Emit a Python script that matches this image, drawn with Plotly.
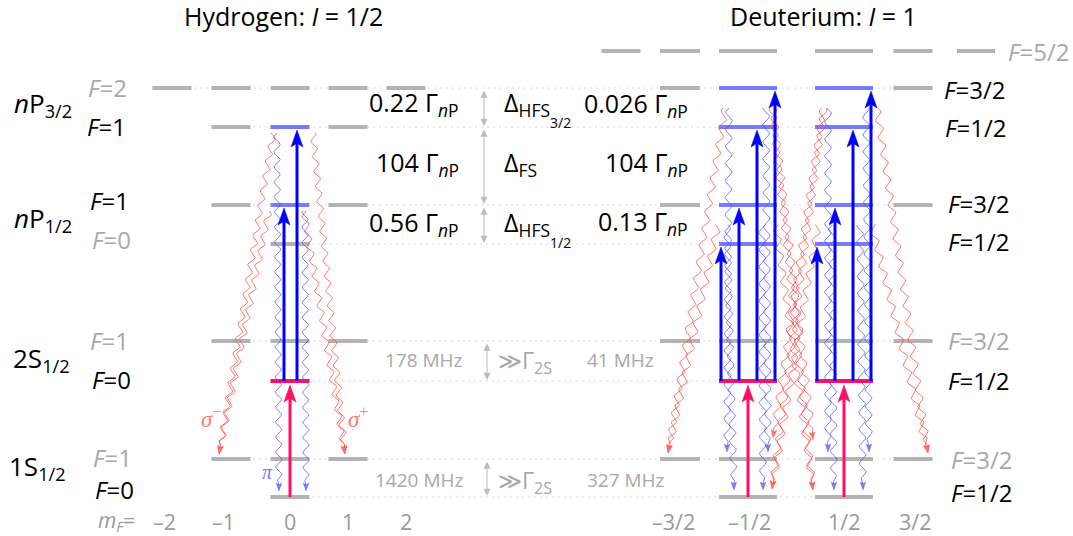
import numpy as np
import plotly.graph_objects as go

# ============================ data ============================
H_mF        = [-2, -1, 0, 1, 2]
H_mF_labels = ["–2", "–1", "0", "1", "2"]
D_mF        = [-2.5, -1.5, -0.5, 0.5, 1.5, 2.5]
D_mF_labels = ["", "–3/2", "–1/2", "1/2", "3/2", ""]

# schematic level ladder (diagram units, top = high energy)
rows      = ["P32_F52", "P32_hi", "P32_lo", "P12_hi", "P12_lo", "2S_hi", "2S_lo", "1S_hi", "1S_lo"]
row_level = [51, 88, 127, 205, 244, 341, 381, 459, 497]

terms      = ["<i>n</i>P<sub>3/2</sub>", "<i>n</i>P<sub>1/2</sub>", "2S<sub>1/2</sub>", "1S<sub>1/2</sub>"]
titles     = ["Hydrogen: <i>I</i> = 1/2", "Deuterium: <i>I</i> = 1"]

# (row, F, mF list, state per mF: g idle / b probed nP / p prepared 2S, label active)
H_levels = [
    ("P32_hi", "2",   [-2, -1, 0, 1, 2], "ggggg", False),
    ("P32_lo", "1",   [-1, 0, 1],        "gbg",   True),
    ("P12_hi", "1",   [-1, 0, 1],        "gbg",   True),
    ("P12_lo", "0",   [0],               "g",     False),
    ("2S_hi",  "1",   [-1, 0, 1],        "ggg",   False),
    ("2S_lo",  "0",   [0],               "p",     True),
    ("1S_hi",  "1",   [-1, 0, 1],        "ggg",   False),
    ("1S_lo",  "0",   [0],               "g",     True),
]
D_levels = [
    ("P32_F52", "5/2", [-2.5, -1.5, -0.5, 0.5, 1.5, 2.5], "gggggg", False),
    ("P32_hi",  "3/2", [-1.5, -0.5, 0.5, 1.5],            "gbbg",   True),
    ("P32_lo",  "1/2", [-0.5, 0.5],                       "bb",     True),
    ("P12_hi",  "3/2", [-1.5, -0.5, 0.5, 1.5],            "gbbg",   True),
    ("P12_lo",  "1/2", [-0.5, 0.5],                       "bb",     True),
    ("2S_hi",   "3/2", [-1.5, -0.5, 0.5, 1.5],            "gggg",   False),
    ("2S_lo",   "1/2", [-0.5, 0.5],                       "pp",     True),
    ("1S_hi",   "3/2", [-1.5, -0.5, 0.5, 1.5],            "gggg",   False),
    ("1S_lo",   "1/2", [-0.5, 0.5],                       "gg",     True),
]

# laser excitations
H_pump  = [(0, "1S_lo", "2S_lo")]
D_pump  = [(-0.5, "1S_lo", "2S_lo"), (0.5, "1S_lo", "2S_lo")]
H_probe = [(0, "2S_lo", "P12_hi", -6), (0, "2S_lo", "P32_lo", 7)]
D_probe = [(m, "2S_lo", r, o) for m in (-0.5, 0.5)
           for r, o in (("P12_lo", -27), ("P12_hi", -9), ("P32_lo", 9), ("P32_hi", 27))]

# spontaneous decays: (from row, from mF, dx0, to row, to mF, dx1, dy1, kind)
H_decays = [
    ("P32_lo", 0, -13, "1S_lo", 0, -11, -6, "pi"),
    ("P12_hi", 0,  15, "1S_lo", 0,  16, -6, "pi"),
    ("P32_lo", 0, -17, "1S_hi", -1, -12, -5, "sig"),
    ("P12_hi", 0, -21, "1S_hi", -1, -12, -5, "sig"),
    ("P32_lo", 0,  23, "1S_hi", 1,  -3, -5, "sig"),
    ("P12_hi", 0,  14, "1S_hi", 1,  -3, -5, "sig"),
]
D_decays = [
    ("P32_hi", -0.5, -19, "1S_hi", -0.5, -21, -7, "pi"),
    ("P32_hi", -0.5,  18, "1S_hi", -0.5,  20, -7, "pi"),
    ("P12_hi", -0.5, -21, "1S_lo", -0.5, -14, -7, "pi"),
    ("P12_hi", -0.5,  14, "1S_lo", -0.5,  15, -7, "pi"),
    ("P32_hi", -0.5, -23, "1S_hi", -1.5, -12, -6, "sig"),
    ("P12_hi", -0.5, -30, "1S_hi", -1.5, -12, -6, "sig"),
    ("P32_hi", -0.5,  25, "1S_hi", 0.5, -31, -19, "sig"),
    ("P12_hi", -0.5,  28, "1S_lo", 0.5, -31, -7, "sig"),
    ("P32_hi", -0.5,  24, "1S_lo", 0.5, -31, -7, "sig"),
    ("P32_hi", 0.5, -16, "1S_hi", 0.5, -16, -7, "pi"),
    ("P32_hi", 0.5,  22, "1S_hi", 0.5,  25, -7, "pi"),
    ("P12_hi", 0.5, -12, "1S_lo", 0.5, -10, -7, "pi"),
    ("P12_hi", 0.5,  16, "1S_lo", 0.5,  19, -7, "pi"),
    ("P32_hi", 0.5,  33, "1S_hi", 1.5,  15, -6, "sig"),
    ("P12_hi", 0.5,  28, "1S_hi", 1.5,  15, -6, "sig"),
    ("P32_hi", 0.5, -21, "1S_hi", -0.5, 25, -21, "sig"),
    ("P12_hi", 0.5, -26, "1S_lo", -0.5, 24, -8, "sig"),
    ("P32_hi", 0.5, -20, "1S_lo", -0.5, 24, -8, "sig"),
]

split_H   = ["0.22", "104", "0.56"]
split_D   = ["0.026", "104", "0.13"]
split_sym = ["HFS", "FS", "HFS"]
split_sub = ["3/2", "", "1/2"]
S_split_H = ["178 MHz", "1420 MHz"]
S_split_D = ["41 MHz", "327 MHz"]

# ============================ layout / style ============================
W, Hh = 1073, 536
FONT = "Open Sans"
GRAY_LVL, BLUE_LVL, PINK = "#b3b3b3", "#7a7aff", "#ff0f68"
BLUE = "#0000ff"
RED_W, BLUE_W = "rgba(255,70,70,0.75)", "rgba(70,70,255,0.7)"
TXT_GRAY = "#a8a8a8"

Y = dict(zip(rows, row_level))
H_col = dict(zip(H_mF, [172, 231, 290, 348, 406]))
H_half = 19.5
D_col = dict(zip(D_mF, [621, 680, 748, 844, 913, 976]))
D_half = dict(zip(D_mF, [19.5, 20, 29, 29, 19.5, 19]))
STATE_COL = {"g": GRAY_LVL, "b": BLUE_LVL, "p": PINK}

fig = go.Figure()

def add_lines(xs, ys, color, width, dash=None):
    fig.add_trace(go.Scatter(x=xs, y=ys, mode="lines", hoverinfo="skip",
                             line=dict(color=color, width=width, dash=dash)))

def add_fill(xs, ys, color):
    fig.add_trace(go.Scatter(x=xs, y=ys, mode="lines", fill="toself", fillcolor=color,
                             line=dict(color=color, width=0.5), hoverinfo="skip"))

# ---- segments ----
segs = []
for row, F, ms, st, act in H_levels:
    for m, s in zip(ms, st):
        segs.append((H_col[m] - H_half, H_col[m] + H_half, Y[row], s, row))
for row, F, ms, st, act in D_levels:
    for m, s in zip(ms, st):
        segs.append((D_col[m] - D_half[m], D_col[m] + D_half[m], Y[row], s, row))

# ---- dotted guides per row ----
gx, gy = [], []
for row in rows:
    if row == "P32_F52":
        continue
    ss = [s for s in segs if s[4] == row]
    gx += [min(s[0] for s in ss), max(s[1] for s in ss), None]
    gy += [Y[row], Y[row], None]
add_lines(gx, gy, "#b0b0b0", 1, "1px,5px")

# ---- level segments ----
for st in "gbp":
    xs, ys = [], []
    for x0, x1, y, s, r in segs:
        if s == st:
            xs += [x0, x1, None]
            ys += [y, y, None]
    add_lines(xs, ys, STATE_COL[st], 4)

# ---- helpers ----
def head_poly(xt, yt, ux, uy, L, Wd, notch=0.22):
    px, py = -uy, ux
    bx, by = xt - ux * L, yt - uy * L
    nx, ny = xt - ux * L * (1 - notch), yt - uy * L * (1 - notch)
    return ([xt, bx + px * Wd / 2, nx, bx - px * Wd / 2, xt, None],
            [yt, by + py * Wd / 2, ny, by - py * Wd / 2, yt, None])

def wavy(x0, y0, x1, y1, amp, wl, phase, head):
    dx, dy = x1 - x0, y1 - y0
    L = np.hypot(dx, dy)
    ux, uy = dx / L, dy / L
    px, py = -uy, ux
    Lw = L - head * 0.75
    s = np.linspace(0, Lw, int(Lw * 3) + 2)
    taper = np.clip((Lw - s) / (wl * 0.6), 0, 1)
    off = amp * np.sin(2 * np.pi * s / wl + phase) * taper
    return list(x0 + ux * s + px * off) + [None], list(y0 + uy * s + py * off) + [None], ux, uy

# ---- spontaneous decays (wavy photons) ----
wav = {"pi": ([], [], [], []), "sig": ([], [], [], [])}
def add_decay(x0, y0, x1, y1, kind, amp, wl, phase):
    xs, ys, ux, uy = wavy(x0, y0, x1, y1, amp, wl, phase, 8)
    hx, hy = head_poly(x1, y1, ux, uy, 8, 5.5)
    w = wav[kind]
    w[0].extend(xs); w[1].extend(ys); w[2].extend(hx); w[3].extend(hy)

for i, (r0, m0, d0, r1, m1, d1, dy1, kind) in enumerate(H_decays):
    add_decay(H_col[m0] + d0, Y[r0] + 6, H_col[m1] + d1, Y[r1] + dy1, kind, 3.0, 15, 1.1 * i)
for i, (r0, m0, d0, r1, m1, d1, dy1, kind) in enumerate(D_decays):
    add_decay(D_col[m0] + d0, Y[r0] + 20, D_col[m1] + d1, Y[r1] + dy1, kind, 3.3, 17, 1.7 * i)

for kind, col in (("sig", RED_W), ("pi", BLUE_W)):
    xs, ys, hx, hy = wav[kind]
    add_lines(xs, ys, col, 1)
    add_fill(hx, hy, col)

# ---- laser arrows ----
def arrows(specs, color, width):
    sx, sy, hx, hy = [], [], [], []
    for x, yb, yt in specs:
        L = 17
        sx += [x, x, None]; sy += [yb, yt + L * 0.7, None]
        px_, py_ = head_poly(x, yt, 0, -1, L, 12)
        hx += px_; hy += py_
    add_lines(sx, sy, color, width)
    add_fill(hx, hy, color)

arrows([(H_col[m], Y[a], Y[b] + 4) for m, a, b in H_pump] +
       [(D_col[m], Y[a], Y[b] + 4) for m, a, b in D_pump], PINK, 3)
arrows([(H_col[m] + o, Y[a], Y[b] + 3) for m, a, b, o in H_probe] +
       [(D_col[m] + o, Y[a], Y[b] + 3) for m, a, b, o in D_probe], BLUE, 3)

# ---- annotations ----
ann = []
def txt(x, y, s, size, color="black", xa="center", ya="middle", family=FONT):
    ann.append(dict(x=x, y=y, xref="x", yref="y", text=s, showarrow=False,
                    font=dict(size=size, color=color, family=family),
                    xanchor=xa, yanchor=ya, borderpad=0))

def darrow(x, y0, y1):
    ann.append(dict(x=x, y=y1, ax=x, ay=y0, xref="x", yref="y", axref="x", ayref="y",
                    text="", showarrow=True, arrowhead=2, arrowside="end+start",
                    arrowsize=1.3, arrowwidth=1.1, arrowcolor="#bdbdbd"))

# titles
txt(283, 16, titles[0], 25)
txt(823, 16, titles[1], 25)

# term labels
for t, (x, y) in zip(terms, [(13, 104), (13, 219), (12, 359), (8, 467)]):
    txt(x, y, t, 26, xa="left")

# F labels hydrogen (right aligned)
H_F_pos = [(128, 87), (127, 126), (130, 200), (132, 239), (130, 340), (132, 379), (133, 457), (135, 489)]
for (row, F, ms, st, act), (x, y) in zip(H_levels, H_F_pos):
    txt(x, y, f"<i>F</i>={F}", 24, "black" if act else TXT_GRAY, xa="right")
# F labels deuterium (left aligned)
D_F_pos = [(1007, 51), (943, 89), (944, 127), (947, 203), (947, 241), (947, 340), (947, 380), (950, 459), (950, 492)]
for (row, F, ms, st, act), (x, y) in zip(D_levels, D_F_pos):
    txt(x, y, f"<i>F</i>={F}", 24, "black" if act else TXT_GRAY, xa="left")

# splittings nP
for i, (a, b) in enumerate([("P32_hi", "P32_lo"), ("P32_lo", "P12_hi"), ("P12_hi", "P12_lo")]):
    yc = [103, 163, 223][i]
    txt(460, yc, f"{split_H[i]} Γ<sub><i>n</i>P</sub>", 25, xa="right")
    txt(689, yc + (1 if i == 0 else (-1 if i == 2 else 0)), f"{split_D[i]} Γ<sub><i>n</i>P</sub>", 25, xa="right")
    txt(503, yc, f"Δ<sub>{split_sym[i]}</sub>", 25, xa="left")
    if split_sub[i]:
        txt(549, yc + 19, split_sub[i], 14, xa="left")
    darrow(484, Y[a] + 1, Y[b] - 1)

# splittings S
for i, (a, b) in enumerate([("2S_hi", "2S_lo"), ("1S_hi", "1S_lo")]):
    yc = [360, 480][i]
    txt(464, yc, S_split_H[i], 19, TXT_GRAY, xa="right")
    txt(586, yc, S_split_D[i], 19, TXT_GRAY, xa="left")
    txt(497, yc + 1, "≫Γ<sub>2S</sub>", 23, TXT_GRAY, xa="left")
    darrow(487, Y[a] + 1, Y[b] - 1)

# mF axis labels
txt(136, 521, "<i>m</i><sub><i>F</i></sub>=", 21, "#9a9a9a", xa="right")
for m, lab in zip(H_mF, H_mF_labels):
    txt(H_col[m] - (8 if m < 0 else 0), 521, lab, 21.5, "#9a9a9a")
for m, lab in zip(D_mF, D_mF_labels):
    if lab:
        txt(D_col[m] + (-7 if m == -1.5 else (1 if m == -0.5 else (2 if m == 1.5 else 0))), 521, lab, 21.5, "#9a9a9a")

# polarisation labels
SERIF = "Liberation Serif"
txt(211, 417, "<i>σ</i><sup>−</sup>", 23, "#ff7a7a", family=SERIF)
txt(358, 417, "<i>σ</i><sup>+</sup>", 23, "#ff7a7a", family=SERIF)
txt(267, 472, "<i>π</i>", 20, "#7a7aff", family=SERIF)

fig.update_layout(
    width=W, height=Hh, margin=dict(l=0, r=0, t=0, b=0),
    paper_bgcolor="white", plot_bgcolor="white", showlegend=False,
    xaxis=dict(range=[0, W], visible=False, fixedrange=True),
    yaxis=dict(range=[Hh, 0], visible=False, fixedrange=True),
    annotations=ann,
)
fig.write_html("out.html", config={"displayModeBar": False})
